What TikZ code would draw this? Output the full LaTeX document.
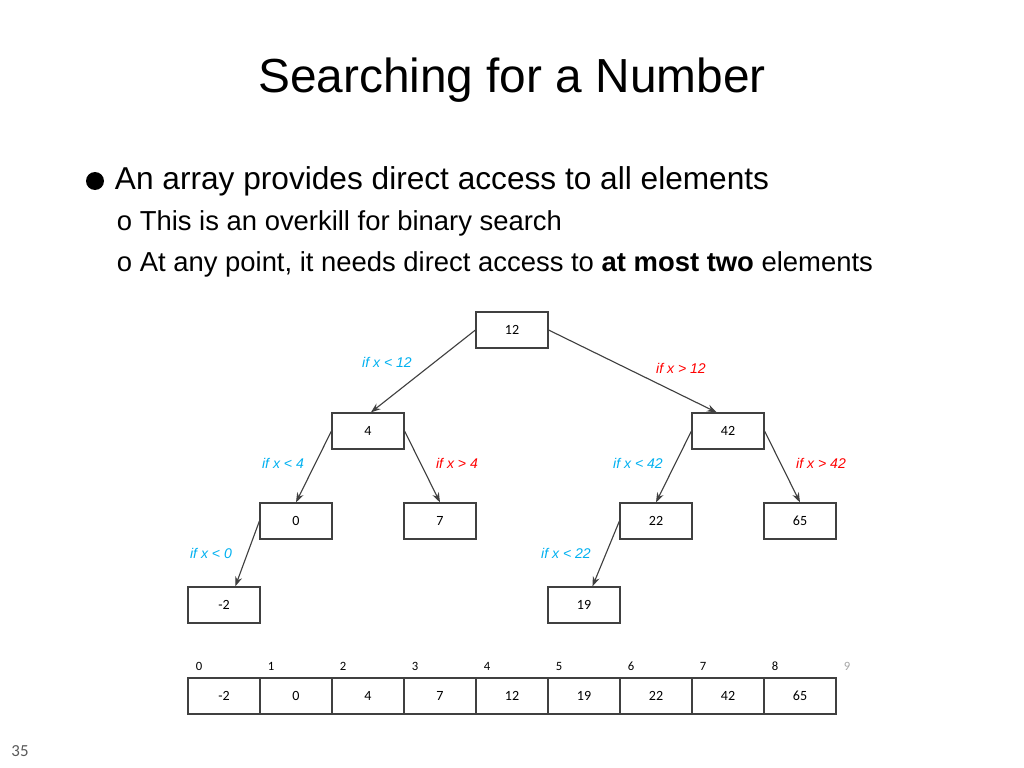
\documentclass[tikz,border=0pt]{standalone}
\usepackage{fontspec}
\setmainfont{Liberation Sans}
\newfontfamily\calibri{Carlito}
\usetikzlibrary{arrows.meta}
\definecolor{lowblue}{RGB}{0,176,240}
\definecolor{highred}{RGB}{255,0,0}
\definecolor{edgegray}{RGB}{64,64,64}

\begin{document}
\begin{tikzpicture}[x=0.025cm, y=-0.025cm]
    \tikzstyle{box_style} = [draw=edgegray, thick, minimum width=1.8cm, minimum height=0.9cm, inner sep=0pt, font=\calibri\fontsize{10}{12}\selectfont]
    \tikzstyle{edge_style} = [-{Stealth[length=7pt, width=5pt]}, thick, edgegray]
    \tikzstyle{low_style} = [lowblue, font=\fontsize{10}{12}\selectfont\itshape]
    \tikzstyle{high_style} = [highred, font=\fontsize{10}{12}\selectfont\itshape]

    \useasboundingbox (0,0) rectangle (1024,768);

    % title and bullets
    \node (title) at (512,80) {\fontsize{34}{40}\selectfont Searching for a Number};
    \fill (95,181) circle (9);
    \node[anchor=west] (b1) at (110,181) {\fontsize{22.5}{27}\selectfont An array provides direct access to all elements};
    \node[anchor=west] (s1) at (112,223) {\fontsize{19.5}{23}\selectfont o This is an overkill for binary search};
    \node[anchor=west] (s2) at (112,264) {\fontsize{19.5}{23}\selectfont o At any point, it needs direct access to \textbf{at most two} elements};

    % tree
    \node[box_style] (n12) at (512,330) {12};
    \node[box_style] (n4) at (368,431) {4};
    \node[box_style] (n42) at (728,431) {42};
    \node[box_style] (n0) at (296,521) {0};
    \node[box_style] (n7) at (440,521) {7};
    \node[box_style] (n22) at (656,521) {22};
    \node[box_style] (n65) at (800,521) {65};
    \node[box_style] (nm2) at (224,605) {-2};
    \node[box_style] (n19) at (584,605) {19};

    \draw[edge_style] (n12.west) -- ([xshift=2]n4.north);
    \draw[edge_style] (n12.east) -- ([xshift=-8]n42.north);
    \draw[edge_style] (n4.west) -- (n0.north);
    \draw[edge_style] (n4.east) -- (n7.north);
    \draw[edge_style] (n42.west) -- (n22.north);
    \draw[edge_style] (n42.east) -- (n65.north);
    \draw[edge_style] (n0.west) -- ([xshift=8]nm2.north);
    \draw[edge_style] (n22.west) -- ([xshift=6]n19.north);

    \node[low_style] (l12) at (387,362) {if x < 12};
    \node[high_style] (h12) at (681,368) {if x > 12};
    \node[low_style] (l4) at (283,463) {if x < 4};
    \node[high_style] (h4) at (457,463) {if x > 4};
    \node[low_style] (l42) at (638,463) {if x < 42};
    \node[high_style] (h42) at (821,463) {if x > 42};
    \node[low_style] (l0) at (211,553) {if x < 0};
    \node[low_style] (l22) at (566,553) {if x < 22};

    % array
    \foreach \v [count=\i from 0] in {-2,0,4,7,12,19,22,42,65} {
        \node[box_style] (a\i) at (224+72*\i,696) {\v};
        \node[font=\calibri\fontsize{9}{11}\selectfont] (ix\i) at (199+72*\i,666) {\i};
    }
    \node[font=\calibri\fontsize{9}{11}\selectfont, gray!70] (ix9) at (847,666) {9};

    \node[font=\calibri\fontsize{12}{14}\selectfont, gray!70!black] (page) at (20,751) {35};
\end{tikzpicture}
\end{document}
